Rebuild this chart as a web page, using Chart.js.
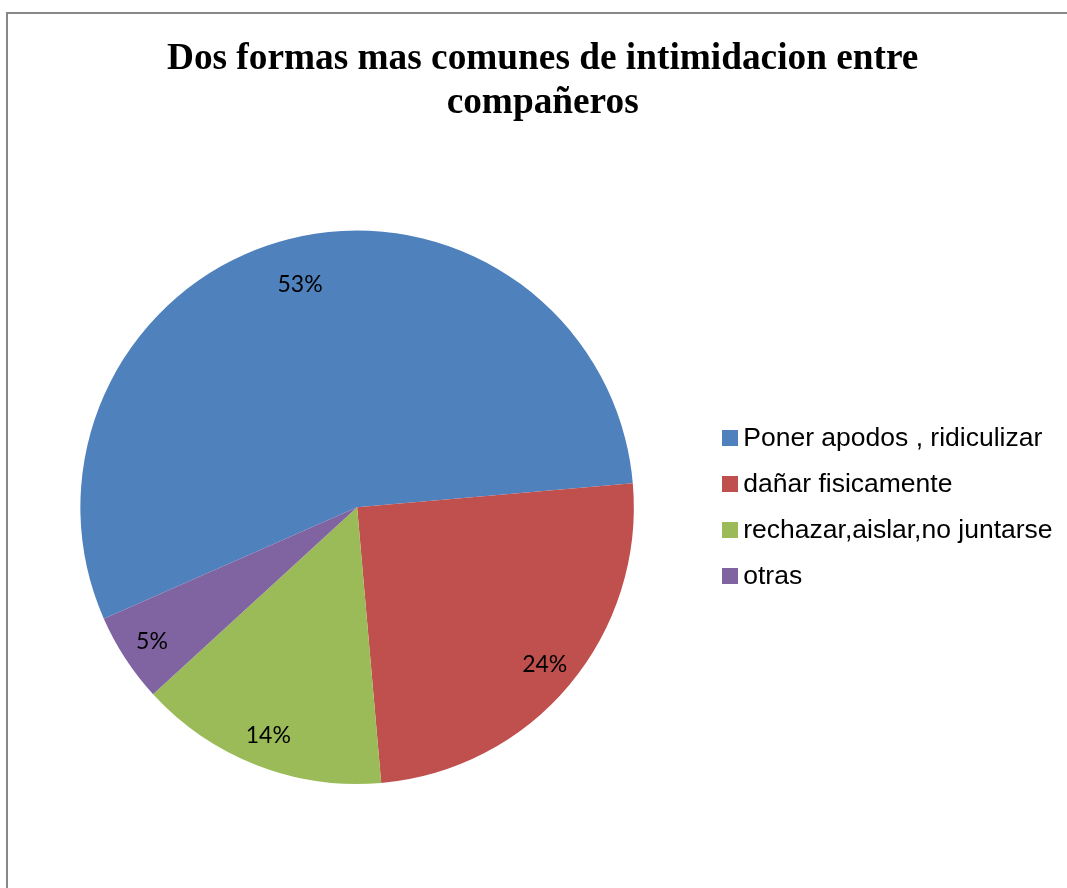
<!DOCTYPE html>
<html>
<head>
<meta charset="utf-8">
<script src="https://cdn.jsdelivr.net/npm/chart.js@4.4.1/dist/chart.umd.min.js"></script>
<style>
  html, body { margin: 0; padding: 0; background: #fff; overflow: hidden; }
  #frame { position: absolute; left: 6px; top: 12px; width: 1200px; height: 1000px;
           border-left: 2px solid #888; border-top: 2px solid #888; }
  #myChart { position: absolute; left: 0; top: 0; }
</style>
</head>
<body>
<div id="frame"></div>
<canvas id="myChart" width="1067" height="888"></canvas>
<script>
const chartTitle = ['Dos formas mas comunes de intimidacion entre', 'compañeros'];
const categories = ['Poner apodos , ridiculizar', 'dañar fisicamente', 'rechazar,aislar,no juntarse', 'otras'];
const percentages = [53, 24, 14, 5];

const sliceColors = ['#4F81BD', '#C0504D', '#9BBB59', '#8064A2'];

// little filled squares for the legend, drawn bigger than the box slot
const legendSquare = (color) => {
  const c = document.createElement('canvas');
  c.width = 16;
  c.height = 16;
  const g = c.getContext('2d');
  g.fillStyle = color;
  g.fillRect(0, 0, 16, 16);
  return c;
};

// percentage text inside each slice (the big slice keeps its label further in)
const sliceLabels = {
  id: 'sliceLabels',
  afterDatasetsDraw(chart) {
    const ctx = chart.ctx;
    const meta = chart.getDatasetMeta(0);
    ctx.save();
    ctx.font = '23px Lato';
    ctx.fillStyle = '#000';
    ctx.textAlign = 'center';
    ctx.textBaseline = 'middle';
    meta.data.forEach((arc, i) => {
      const p = arc.getProps(['x', 'y', 'startAngle', 'endAngle', 'outerRadius'], true);
      const mid = (p.startAngle + p.endAngle) / 2;
      const r = p.outerRadius * (percentages[i] > 50 ? 0.83 : 0.885);
      ctx.fillText(percentages[i] + '%', p.x + Math.cos(mid) * r, p.y + Math.sin(mid) * r);
    });
    ctx.restore();
  }
};

// title sits a bit right of the canvas centre in the original
const titleNudge = {
  id: 'titleNudge',
  afterLayout(chart) {
    chart.titleBlock.left += 9;
    chart.titleBlock.right += 9;
  }
};

const ctx = document.getElementById('myChart').getContext('2d');
const chart = new Chart(ctx, {
  type: 'pie',
  data: {
    labels: categories,
    datasets: [{
      data: percentages,
      backgroundColor: sliceColors,
      borderWidth: 0,
      hoverOffset: 0
    }]
  },
  options: {
    responsive: false,
    animation: false,
    events: [],
    rotation: -113.75,
    layout: { padding: { top: 0, left: 4.7, right: 4.4, bottom: 104 } },
    plugins: {
      title: {
        display: true,
        text: chartTitle,
        color: '#000',
        font: { family: 'Liberation Serif', size: 37.3, weight: 'bold', lineHeight: 1.18 },
        padding: { top: 37, bottom: 105.5 }
      },
      legend: {
        position: 'right',
        fullSize: false,
        labels: {
          color: '#000',
          font: { family: 'Liberation Sans', size: 26.5 },
          usePointStyle: true,
          boxWidth: 1,
          padding: 19.5,
          generateLabels: (c) => {
            const items = Chart.overrides.doughnut.plugins.legend.labels.generateLabels(c);
            items.forEach((item, i) => { item.pointStyle = legendSquare(sliceColors[i]); });
            return items;
          }
        }
      },
      tooltip: { enabled: false }
    }
  },
  plugins: [sliceLabels, titleNudge]
});
</script>
</body>
</html>
